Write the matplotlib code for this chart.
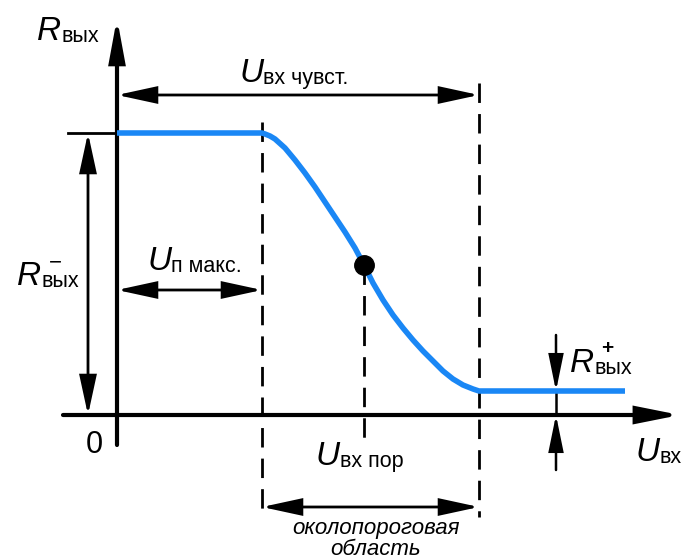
import matplotlib.pyplot as plt

plt.rcParams['font.family'] = ['Liberation Sans', 'DejaVu Sans']
plt.rcParams['lines.scale_dashes'] = False

# характерные точки (origin = 0,0)
U_P_MAX = 145
U_POR = 247
U_SENS = 362
U_END = 508
U_R_PLUS = 439
R_MINUS = 282
R_PLUS = 24

# передаточная характеристика R_вых(U_вх)
curve_u = [0, 145, 148, 153, 158, 168, 178, 188, 198, 208, 218, 228, 238,
           247, 256, 266, 276, 286, 296, 306, 316, 326, 336, 346, 356, 362, 508]
curve_r = [282, 282, 281, 279, 276, 267, 255, 242, 228, 213, 198, 183, 167,
           150, 132, 115, 100, 87, 75, 64, 54, 44, 36, 30, 26, 24, 24]
dot_r = curve_r[curve_u.index(U_POR)]

BLUE = '#1a87f5'

fig = plt.figure(figsize=(6.83, 5.59), dpi=100)
ax = fig.add_axes([0, 0, 1, 1])
ax.set_xlim(-117, 566)
ax.set_ylim(-144, 415)
ax.axis('off')


def arrow(p0, p1, style='<|-|>', lw=2.0, hl=24, hw=5.2):
    ax.annotate('', xy=p1, xytext=p0,
                arrowprops=dict(arrowstyle=f'{style},head_length={hl},head_width={hw}',
                                mutation_scale=1, lw=lw, color='k',
                                shrinkA=0, shrinkB=0, joinstyle='miter'))


def dashed(u, r0, r1):
    ax.plot([u, u], [r0, r1], color='k', lw=2, dashes=(14, 8))


def sym(x, y, main, sub):
    t = ax.text(x, y, main, fontsize=24, style='italic', va='baseline', ha='left')
    ax.annotate(sub, xy=(1, 0), xycoords=t, xytext=(0, 0),
                textcoords='offset points', fontsize=15.5, va='bottom', ha='left')


# оси
arrow((-54, 0), (563, 0), '-|>', lw=3, hl=25, hw=5)
arrow((0, -30), (0, 397), '-|>', lw=3, hl=25, hw=4.6)

# пунктирные линии
dashed(U_P_MAX, 293, -102)
dashed(U_SENS, 332, -102)
dashed(U_POR, dot_r, -30)

# размерные стрелки
arrow((0, 320), (U_SENS, 320))
arrow((0, 125), (U_P_MAX, 125))
arrow((U_P_MAX, -92), (U_SENS, -92))
ax.plot([-49, 0], [R_MINUS, R_MINUS], color='k', lw=2)
arrow((-29, 0), (-29, R_MINUS))
ax.plot([U_R_PLUS, U_R_PLUS], [R_PLUS, 0], color='k', lw=1.8)
arrow((U_R_PLUS, 80), (U_R_PLUS, R_PLUS), '-|>', lw=1.8, hl=22, hw=4.5)
arrow((U_R_PLUS, -55), (U_R_PLUS, 0), '-|>', lw=1.8, hl=22, hw=4.5)

# кривая
ax.plot(curve_u, curve_r, color=BLUE, lw=4, solid_capstyle='butt',
        solid_joinstyle='round', zorder=3)
ax.plot(U_POR, dot_r, 'o', color='k', ms=14, zorder=4)

# подписи
sym(-80, 375, 'R', 'вых')
sym(122, 333, 'U', 'вх чувст.')
sym(30, 145, 'U', 'п макс.')
sym(-100, 130, 'R', 'вых')
ax.text(-68, 147, '−', fontsize=16, ha='left', va='baseline')
sym(453, 43, 'R', 'вых')
ax.text(484, 61, '+', fontsize=15, fontweight='bold', ha='left', va='baseline')
sym(199, -50, 'U', 'вх пор')
sym(518, -46, 'U', 'вх')
ax.text(-23, -38, '0', fontsize=22, ha='center', va='baseline')
ax.text(259, -119, 'околопороговая', fontsize=16, style='italic', ha='center', va='baseline')
ax.text(259, -140, 'область', fontsize=16, style='italic', ha='center', va='baseline')

fig.savefig('out.png', dpi=100)
